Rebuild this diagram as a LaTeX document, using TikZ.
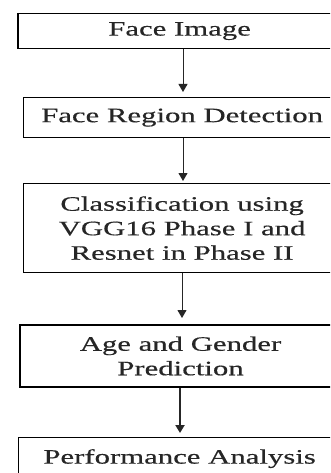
\documentclass[tikz,border=0pt]{standalone}
\usepackage{fontspec}
\setmainfont{Liberation Serif}[FakeStretch=1.5,FakeBold=0.4]
\usetikzlibrary{arrows.meta}
\begin{document}
\begin{tikzpicture}[x=1pt,y=-1pt,
  stagebox/.style={draw=black,line width=1.2pt,rectangle,inner sep=0pt,
    minimum height=#1,align=center,
    font=\fontsize{20.5}{24.5}\selectfont,text=black!85},
  arr/.style={draw=black!85,line width=1pt,-{Triangle[length=8pt,width=9pt]}},
  thickarr/.style={arr,line width=2pt}]
\useasboundingbox (0,0) rectangle (330,473);
\fill[white] (0,0) rectangle (330,473);
\clip (0,0) rectangle (330,473);
\node[stagebox=35pt,minimum width=322pt,anchor=north west] (b1) at (18,13) {Face Image};
\node[stagebox=40pt,minimum width=317pt,anchor=north west] (b2) at (23,97) {Face Region Detection};
\node[stagebox=89pt,minimum width=317pt,anchor=north west] (b3) at (23,183) {Classification using\\VGG16 Phase I and\\Resnet in Phase II};
\node[stagebox=62pt,minimum width=321pt,anchor=north west,line width=2pt] (b4) at (19,324) {Age and Gender\\Prediction};
\node[stagebox=42pt,minimum width=322pt,anchor=north west] (b5) at (18,437) {Performance Analysis};
\draw[line width=2pt] (b1.north west) -- (b1.south west);
\coordinate (a1) at (183,0);
\coordinate (a3) at (182,0);
\coordinate (a4) at (180,0);
\draw[arr] (b1.south -| a1) -- ([yshift=5pt]b2.north -| a1);
\draw[arr] (b2.south -| a1) -- ([yshift=2pt]b3.north -| a1);
\draw[arr] (b3.south -| a3) -- ([yshift=6pt]b4.north -| a3);
\draw[thickarr] (b4.south -| a4) -- ([yshift=4pt]b5.north -| a4);
\end{tikzpicture}
\end{document}
